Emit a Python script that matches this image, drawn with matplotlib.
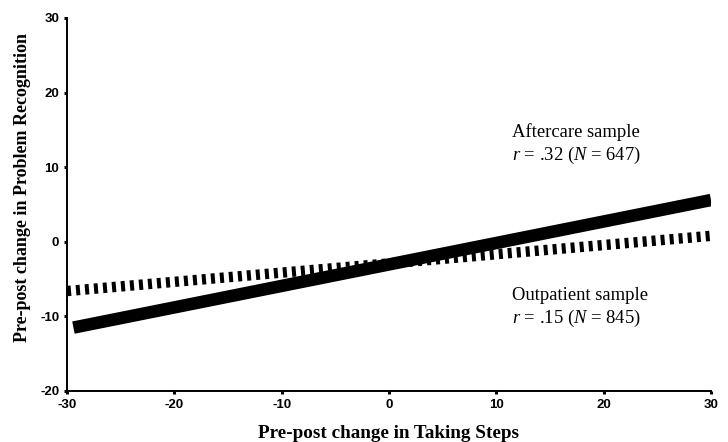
import numpy as np
import matplotlib
matplotlib.use("Agg")
import matplotlib.pyplot as plt

# line end points
aftercare_x = [-29.4, 30]
aftercare_y = [-11.5, 5.6]
outpatient_x = [-30, 30]
outpatient_y = [-6.6, 0.8]

xticks = [-30, -20, -10, 0, 10, 20, 30]
yticks = [-20, -10, 0, 10, 20, 30]

serif = ['Liberation Serif', 'DejaVu Serif']
narrow = ['Liberation Sans Narrow', 'Liberation Sans', 'DejaVu Sans']

plt.rcParams['lines.scale_dashes'] = False
plt.rcParams['mathtext.fontset'] = 'custom'
plt.rcParams['mathtext.it'] = 'Liberation Serif:italic'
plt.rcParams['mathtext.rm'] = 'Liberation Serif'

fig = plt.figure(figsize=(7.28, 4.42), dpi=100)
ax = fig.add_axes([67 / 728, 1 - 391 / 442, (711 - 67) / 728, (391 - 18) / 442])

ax.plot(aftercare_x, aftercare_y, color='black', lw=9, solid_capstyle='butt')
ax.plot(outpatient_x, outpatient_y, color='black', lw=7.5, dashes=(2.9, 3.6),
        dash_capstyle='butt')

ax.set_xlim(-30, 30)
ax.set_ylim(-20, 30)
ax.set_xticks(xticks)
ax.set_yticks(yticks)
ax.set_xticklabels([str(v) for v in xticks], family=narrow, fontsize=9.5, fontweight='bold')
ax.set_yticklabels([str(v) for v in yticks], family=narrow, fontsize=9.5, fontweight='bold')
ax.tick_params(direction='out', length=2.5, width=2.2, pad=3, color='black')

for side in ['top', 'right']:
    ax.spines[side].set_visible(False)
for side in ['left', 'bottom']:
    ax.spines[side].set_linewidth(1.4)


def label(x, y, s):
    fig.text(x / 728, 1 - y / 442, s, family=serif, fontsize=13.4, va='center', ha='left')


label(512, 132, 'Aftercare sample')
label(512, 155, r'$r$ = .32 ($N$ = 647)')
label(512, 295, 'Outpatient sample')
label(512, 318, r'$r$ = .15 ($N$ = 845)')

fig.text(388 / 728, 1 - 433 / 442, 'Pre-post change in Taking Steps', family=serif,
         fontsize=13.8, fontweight='bold', ha='center', va='center')
fig.text(23 / 728, 1 - 188 / 442, 'Pre-post change in Problem Recognition', family=serif,
         fontsize=13, fontweight='bold', ha='center', va='center', rotation=90)

fig.savefig('out.png', dpi=100)
